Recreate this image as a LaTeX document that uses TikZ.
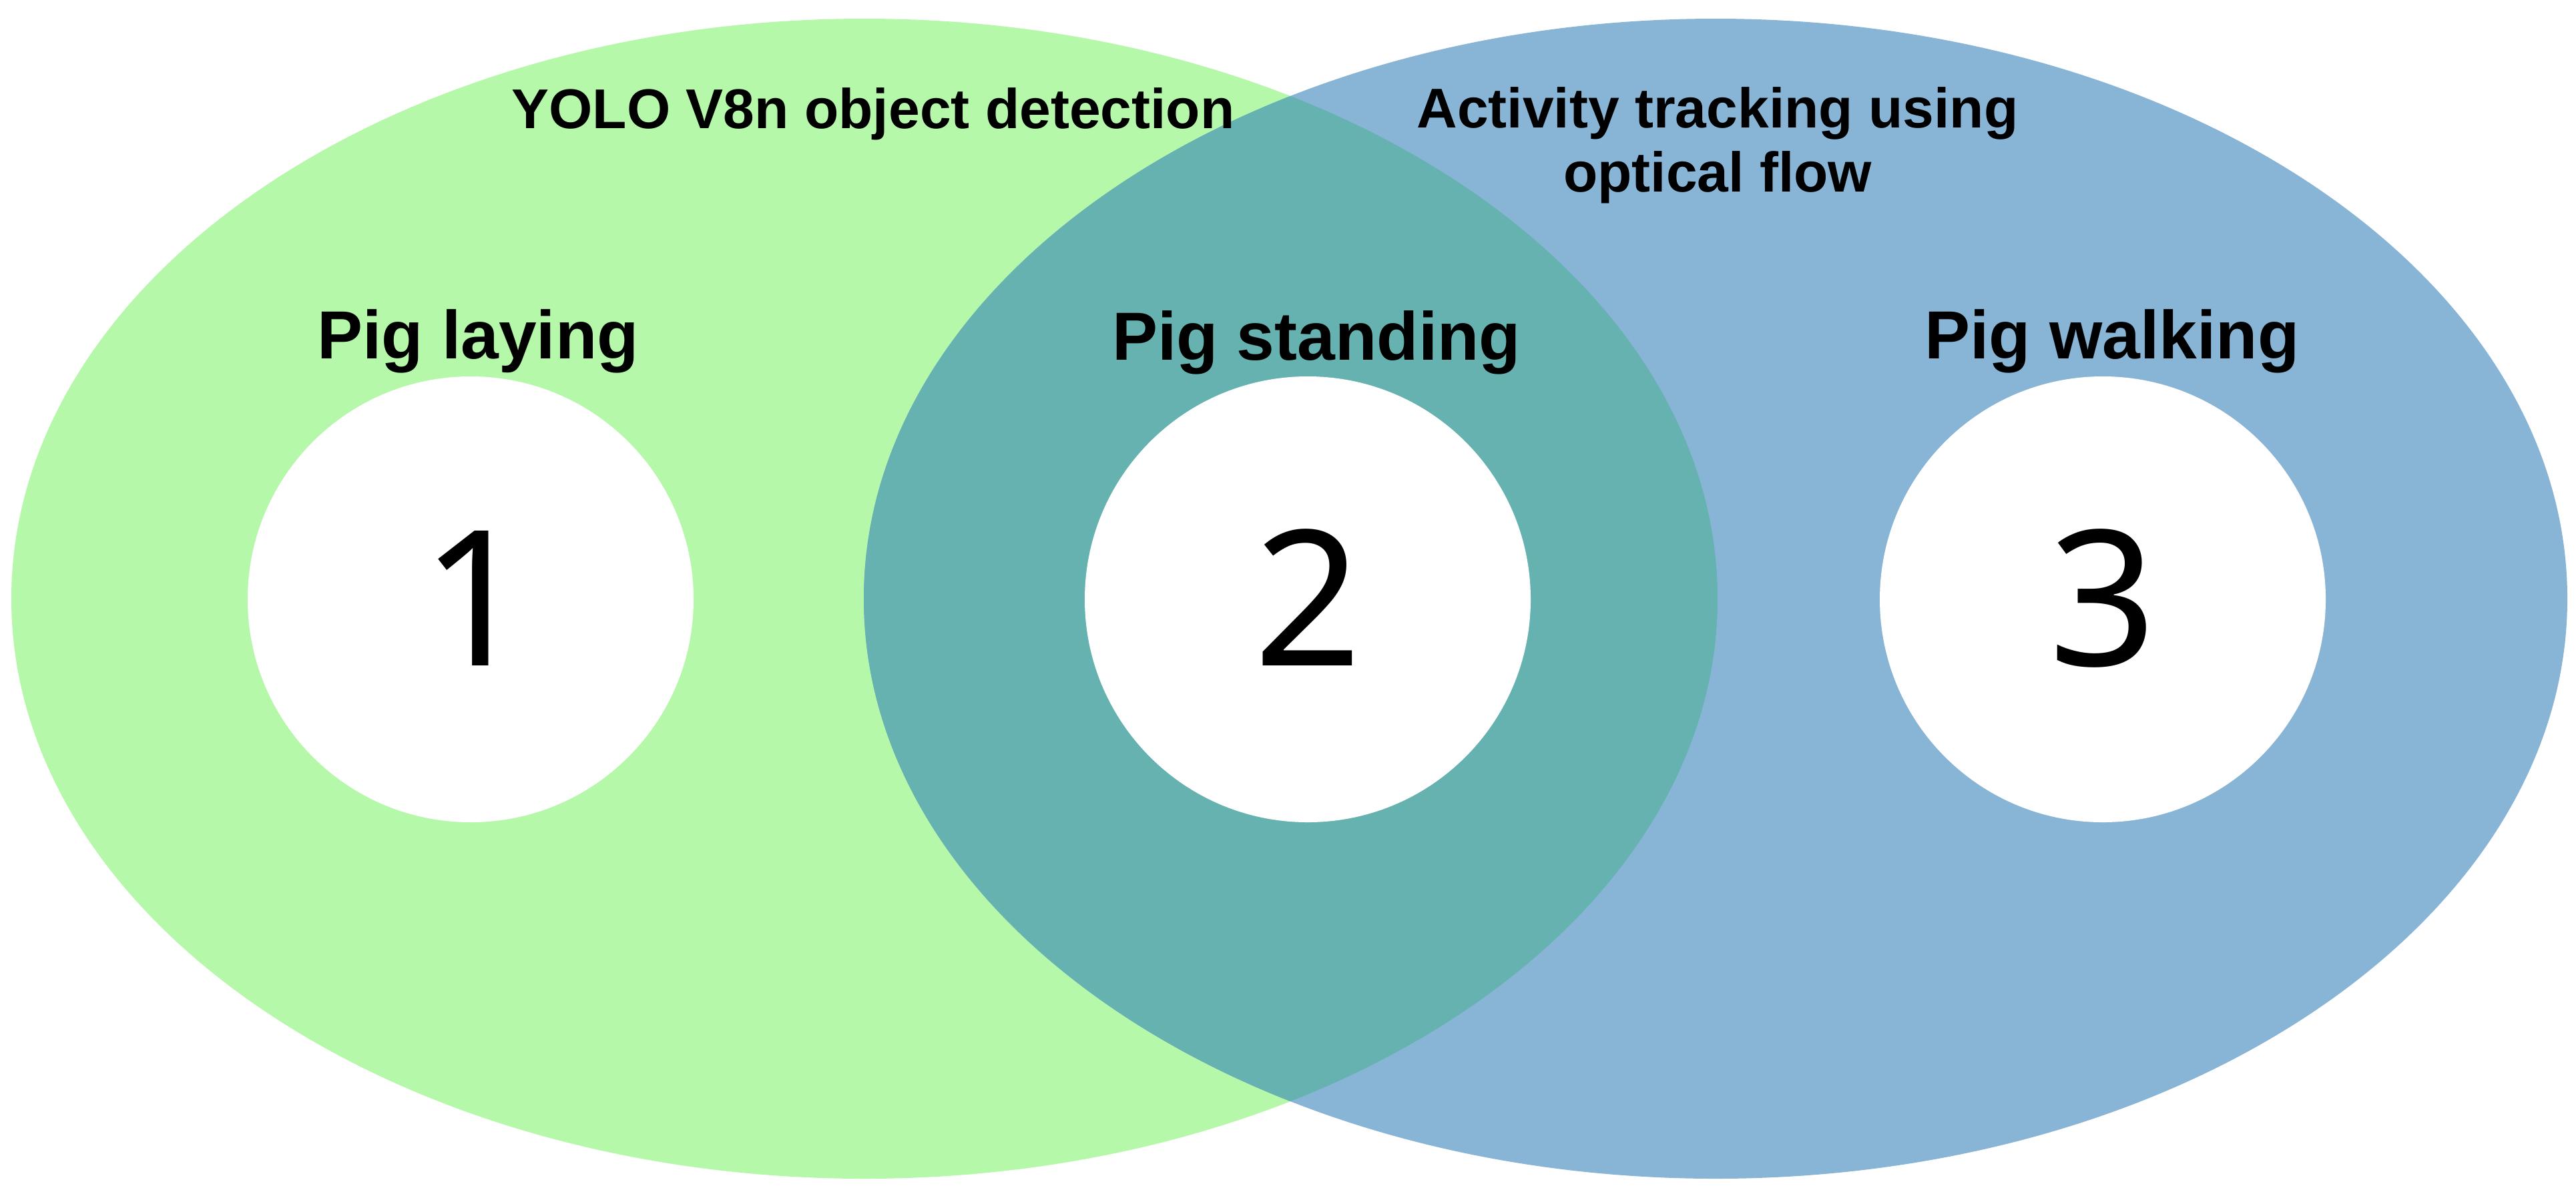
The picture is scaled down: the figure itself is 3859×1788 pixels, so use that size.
\documentclass[tikz,border=0pt]{standalone}
\usepackage{fontspec}
\setmainfont{Liberation Sans}
\newfontfamily\digitfont{Noto Sans}
\definecolor{gfill}{HTML}{B6F8AA}
\definecolor{bfill}{HTML}{88B5D6}
\definecolor{ofill}{HTML}{66B2B0}
\begin{document}
\begin{tikzpicture}[x=0.2pt,y=-0.2pt,
  hole/.style={circle,fill=white,minimum size=133.6pt,inner sep=0pt},
  setlabel/.style={anchor=base,inner sep=0pt,font=\fontsize{16.8pt}{19.2pt}\selectfont\bfseries,align=center},
  catlabel/.style={anchor=base,inner sep=0pt,font=\fontsize{20.4pt}{24pt}\selectfont\bfseries},
  numlabel/.style={anchor=base,inner sep=0pt,font=\digitfont\fontsize{56.6pt}{60pt}\selectfont}]
\useasboundingbox (0,0) rectangle (3859,1788);
\fill[gfill] (1295,897) ellipse [x radius=1278, y radius=869];
\fill[bfill] (2570,897) ellipse [x radius=1276, y radius=869];
\begin{scope}
  \clip (1295,897) ellipse [x radius=1278, y radius=869];
  \fill[ofill] (2570,897) ellipse [x radius=1276, y radius=869];
\end{scope}
\node[hole] (c1) at (705,898) {};
\node[hole] (c2) at (1959,898) {};
\node[hole] (c3) at (3150,898) {};
\node[numlabel] (n1) at (712,997) {1};
\node[numlabel] (n2) at (1959,997) {2};
\node[numlabel] (n3) at (3150,997) {3};
\node[catlabel] (l1) at (716,537) {Pig laying};
\node[catlabel] (l2) at (1972,539) {Pig standing};
\node[catlabel] (l3) at (3164,537) {Pig walking};
\node[setlabel] (s1) at (1308,192) {YOLO V8n object detection};
\node[setlabel] (s2a) at (2573,191) {Activity tracking using};
\node[setlabel] (s2b) at (2573,287) {optical flow};
\end{tikzpicture}
\end{document}
